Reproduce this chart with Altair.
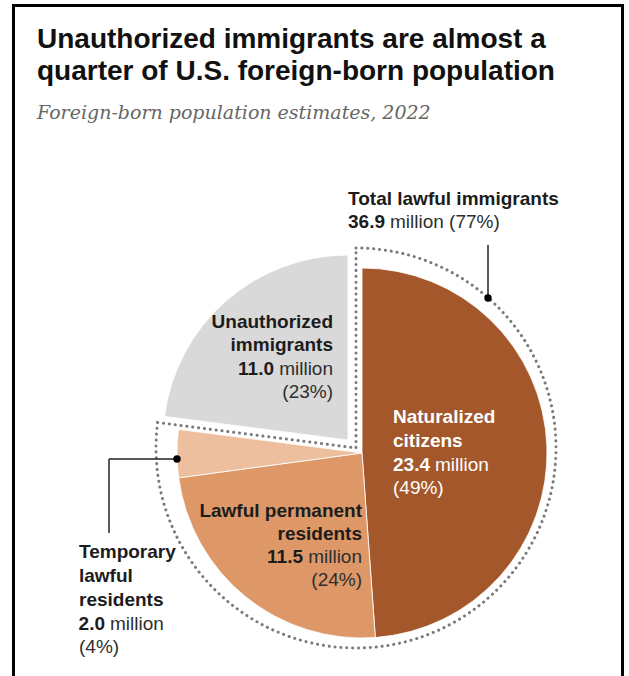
import math
import altair as alt
import pandas as pd

# ---------------- data ----------------
categories = ["Naturalized citizens", "Lawful permanent residents",
              "Temporary lawful residents", "Unauthorized immigrants"]
values = [23.4, 11.5, 2.0, 11.0]          # millions, 2022
is_lawful = [True, True, True, False]
slice_colors = ["#A3572A", "#DE9868", "#EDBF9F", "#D9D9D9"]
label_lines = [["Naturalized", "citizens"],
               ["Lawful permanent", "residents"],
               ["Temporary", "lawful", "residents"],
               ["Unauthorized", "immigrants"]]
total_label = "Total lawful immigrants"

title_lines = ["Unauthorized immigrants are almost a",
               "quarter of U.S. foreign-born population"]
subtitle = "Foreign-born population estimates, 2022"

total = sum(values)
lawful_total = sum(v for v, l in zip(values, is_lawful) if l)

W, H = 629, 676
FONT = "Liberation Sans"
DARK = "#1c1c1c"
REG = "#2e2e2e"

pie_df = pd.DataFrame({"category": categories, "value": values,
                       "lawful": is_lawful, "order": list(range(len(values))),
                       "color": slice_colors})

CX, CY, R = 362, 453, 185

base = (alt.Chart(pie_df)
        .transform_window(cum="sum(value)", sort=[alt.SortField("order")])
        .transform_calculate(a0=f"2*PI*(datum.cum - datum.value)/{total}",
                             a1=f"2*PI*datum.cum/{total}"))

arc_enc = dict(theta=alt.Theta("a0:Q", scale=None), theta2="a1:Q",
               color=alt.Color("color:N", scale=None))

lawful_arcs = (base.transform_filter("datum.lawful")
               .mark_arc(outerRadius=R, stroke="white", strokeWidth=0.8)
               .encode(x=alt.value(CX), y=alt.value(CY), **arc_enc))
unauth_arc = (base.transform_filter("!datum.lawful")
              .mark_arc(outerRadius=R, stroke="white", strokeWidth=0.8)
              .encode(x=alt.value(CX - 14), y=alt.value(CY - 13), **arc_enc))

dotted_df = pd.DataFrame({"a0": [0.0], "a1": [2 * math.pi * lawful_total / total]})
dotted = (alt.Chart(dotted_df)
          .mark_arc(outerRadius=200, fill="white", fillOpacity=0,
                    stroke="#7a7a7a", strokeWidth=3, strokeDash=[0.1, 5.8],
                    strokeCap="round")
          .encode(theta=alt.Theta("a0:Q", scale=None), theta2="a1:Q",
                  x=alt.value(356), y=alt.value(448)))

# ---------------- annotation text ----------------
def pct(v):
    return f"({round(100 * v / total)}%)"

rows = []
def put(text, x, y, align, bold, color=DARK):
    rows.append(dict(text=text, x=x, y=y, align=align, bold=bold, color=color))

# total lawful
put(total_label, 348, 205, "left", True)
put(f"{lawful_total:.1f}", 385, 228, "right", True)
put(f"million {pct(lawful_total)}", 390, 228, "left", False, REG)

# naturalized (white, left aligned)
nat_y = [423, 447, 471, 494]
for i, ln in enumerate(label_lines[0]):
    put(ln, 393, nat_y[i], "left", True, "white")
put(f"{values[0]:.1f}", 430, nat_y[2], "right", True, "white")
put("million", 435, nat_y[2], "left", False, "white")
put(pct(values[0]), 393, nat_y[3], "left", False, "white")

# lawful permanent residents (right aligned)
lpr_y = [517, 540, 563, 586]
for i, ln in enumerate(label_lines[1]):
    put(ln, 362, lpr_y[i], "right", True)
put(f"{values[1]:.1f}", 303, lpr_y[2], "right", True)
put("million", 362, lpr_y[2], "right", False, REG)
put(pct(values[1]), 362, lpr_y[3], "right", False, REG)

# temporary lawful residents (left aligned, outside)
tmp_y = [558, 582, 606, 630, 653]
for i, ln in enumerate(label_lines[2]):
    put(ln, 79, tmp_y[i], "left", True)
put(f"{values[2]:.1f}", 105, tmp_y[3], "right", True)
put("million", 110, tmp_y[3], "left", False, REG)
put(pct(values[2]), 79, tmp_y[4], "left", False, REG)

# unauthorized (right aligned)
un_y = [328, 351, 375, 398]
for i, ln in enumerate(label_lines[3]):
    put(ln, 333, un_y[i], "right", True)
put(f"{values[3]:.1f}", 274, un_y[2], "right", True)
put("million", 333, un_y[2], "right", False, REG)
put(pct(values[3]), 333, un_y[3], "right", False, REG)

ann = pd.DataFrame(rows)

def text_layer(align, bold):
    flt = f"datum.align == '{align}' && datum.bold == {'true' if bold else 'false'}"
    return (alt.Chart(ann).transform_filter(flt)
            .mark_text(align=align, baseline="alphabetic", font=FONT, fontSize=19,
                       fontWeight="bold" if bold else "normal")
            .encode(x=alt.X("x:Q", scale=None, axis=None),
                    y=alt.Y("y:Q", scale=None, axis=None),
                    text="text:N", color=alt.Color("color:N", scale=None)))

texts = [text_layer(a, b) for a in ("left", "right") for b in (True, False)]

# ---------------- title / subtitle ----------------
title_df = pd.DataFrame({"text": title_lines, "line": [0, 1]})
title = (alt.Chart(title_df)
         .transform_calculate(ty="48 + 32*datum.line")
         .mark_text(align="left", baseline="alphabetic", font=FONT, fontSize=28,
                    fontWeight="bold", color="#111111")
         .encode(x=alt.value(37),
                 y=alt.Y("ty:Q", scale=None, axis=None),
                 text="text:N"))
sub = (alt.Chart(pd.DataFrame({"text": [subtitle]}))
       .mark_text(align="left", baseline="alphabetic", font="DejaVu Serif",
                  fontStyle="italic", fontSize=19, color="#666666")
       .encode(x=alt.value(37), y=alt.value(119), text="text:N"))

# ---------------- leaders ----------------
leader_color = "#222222"
one = pd.DataFrame({"k": [0]})
lead1 = alt.Chart(one).mark_rule(color=leader_color, strokeWidth=1.5).encode(
    x=alt.value(488), y=alt.value(245), y2=alt.value(298))
lead2h = alt.Chart(one).mark_rule(color=leader_color, strokeWidth=1.5).encode(
    x=alt.value(109), x2=alt.value(177), y=alt.value(459))
lead2v = alt.Chart(one).mark_rule(color=leader_color, strokeWidth=1.5).encode(
    x=alt.value(109), y=alt.value(459), y2=alt.value(533))
dot1 = alt.Chart(one).mark_point(filled=True, color="black", size=55, opacity=1).encode(
    x=alt.value(488), y=alt.value(298))
dot2 = alt.Chart(one).mark_point(filled=True, color="black", size=55, opacity=1).encode(
    x=alt.value(177), y=alt.value(459))

# ---------------- frame ----------------
frame_l = alt.Chart(one).mark_rule(color="black", strokeWidth=3).encode(
    x=alt.value(13.5), y=alt.value(4), y2=alt.value(H))
frame_t = alt.Chart(one).mark_rule(color="black", strokeWidth=3).encode(
    x=alt.value(12), x2=alt.value(624), y=alt.value(5.5))
frame_r = alt.Chart(one).mark_rule(color="black", strokeWidth=3).encode(
    x=alt.value(622.5), y=alt.value(4), y2=alt.value(H))

chart = (alt.layer(lawful_arcs, unauth_arc, dotted, lead1, lead2h, lead2v, dot1, dot2,
                   *texts, title, sub, frame_l, frame_t, frame_r)
         .properties(width=W, height=H, autosize=alt.AutoSizeParams(type="none"),
                     padding=0, background="white")
         .configure_view(stroke=None))

chart.save("out.html", embed_options={"renderer": "svg", "actions": False})
